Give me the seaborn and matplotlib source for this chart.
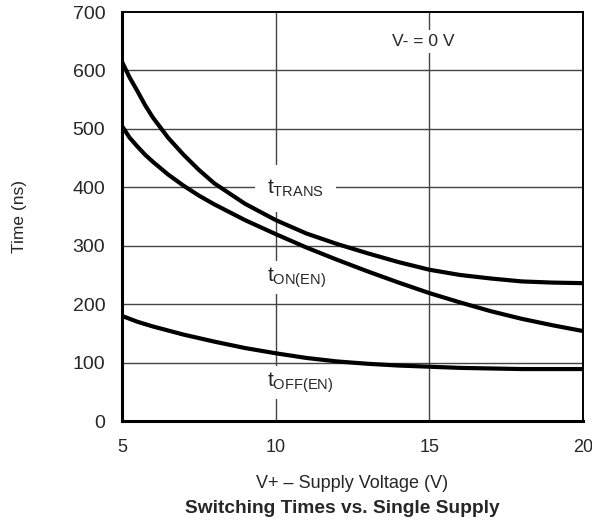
import matplotlib
matplotlib.use('Agg')
import matplotlib.pyplot as plt
import pandas as pd
import seaborn as sns

# supply voltage (V) and switching times (ns)
supply_v = [5, 5.25, 5.5, 5.75, 6, 6.5, 7, 7.5, 8, 9, 10, 11, 12, 13, 14, 15, 16, 17, 18, 19, 20]
t_trans = [615, 588, 565, 541, 520, 485, 456, 430, 407, 372, 344, 321, 303, 287, 272, 259, 250, 244, 239, 237, 236]
t_on_en = [505, 485, 470, 456, 444, 422, 403, 386, 371, 344, 320, 297, 276, 256, 237, 219, 203, 188, 175, 164, 154]
t_off_en = [180, 175, 170, 166, 162, 155, 148, 142, 136, 125, 116, 108, 102, 98, 95, 93, 91, 90, 89, 89, 89]

x_ticks = [5, 10, 15, 20]
y_ticks = [0, 100, 200, 300, 400, 500, 600, 700]

sns.set_style('white')
plt.rcParams['font.family'] = ['Liberation Sans', 'DejaVu Sans']

df = pd.DataFrame({
    'V': supply_v * 3,
    'time': t_trans + t_on_en + t_off_en,
    'curve': ['trans'] * len(supply_v) + ['on'] * len(supply_v) + ['off'] * len(supply_v),
})

fig = plt.figure(figsize=(5.92, 5.25), dpi=100)
ax = fig.add_axes([0.206, 0.198, 0.779, 0.779])

for y in y_ticks[1:-1]:
    ax.axhline(y, color='#444444', lw=1.0, zorder=1)
for x in x_ticks[1:-1]:
    ax.axvline(x, color='#444444', lw=1.0, zorder=1)

sns.lineplot(data=df, x='V', y='time', hue='curve',
             palette={'trans': 'black', 'on': 'black', 'off': 'black'},
             linewidth=3.0, legend=False, ax=ax, zorder=3)

ax.set_xlim(5, 20)
ax.set_ylim(0, 700)
ax.set_xticks(x_ticks)
ax.set_yticks(y_ticks)
ax.tick_params(axis='both', length=0)
ax.tick_params(axis='y', pad=12, labelsize=14)
ax.tick_params(axis='x', pad=13, labelsize=13)

for side in ['left', 'bottom']:
    ax.spines[side].set_linewidth(2.2)
for side in ['top', 'right']:
    ax.spines[side].set_linewidth(1.4)
for s in ax.spines.values():
    s.set_color('black')
    s.set_zorder(4)

box = dict(facecolor='white', edgecolor='none', pad=3)
ax.text(9.72, 398, r'$\mathregular{t_{TRANS}}$', fontsize=15, va='center', ha='left',
        bbox=dict(facecolor='white', edgecolor='none', pad=9), zorder=2)
ax.text(9.72, 245, r'$\mathregular{t_{ON(EN)}}$', fontsize=15, va='center', ha='left', bbox=box, zorder=2)
ax.text(9.72, 66, r'$\mathregular{t_{OFF(EN)}}$', fontsize=15, va='center', ha='left', bbox=box, zorder=2)
ax.text(14.8, 650, 'V- = 0 V', fontsize=12.6, va='center', ha='center', bbox=box, zorder=2)

ax.set_xlabel('V+ – Supply Voltage (V)', fontsize=13)
ax.xaxis.set_label_coords(0.5, -0.132)
ax.set_ylabel('Time (ns)', fontsize=12.5)
ax.yaxis.set_label_coords(-0.205, 0.5)
fig.text(0.578, 0.031, 'Switching Times vs. Single Supply', fontsize=13.8,
         fontweight='bold', ha='center', va='center')

fig.savefig('out.png', dpi=100)
